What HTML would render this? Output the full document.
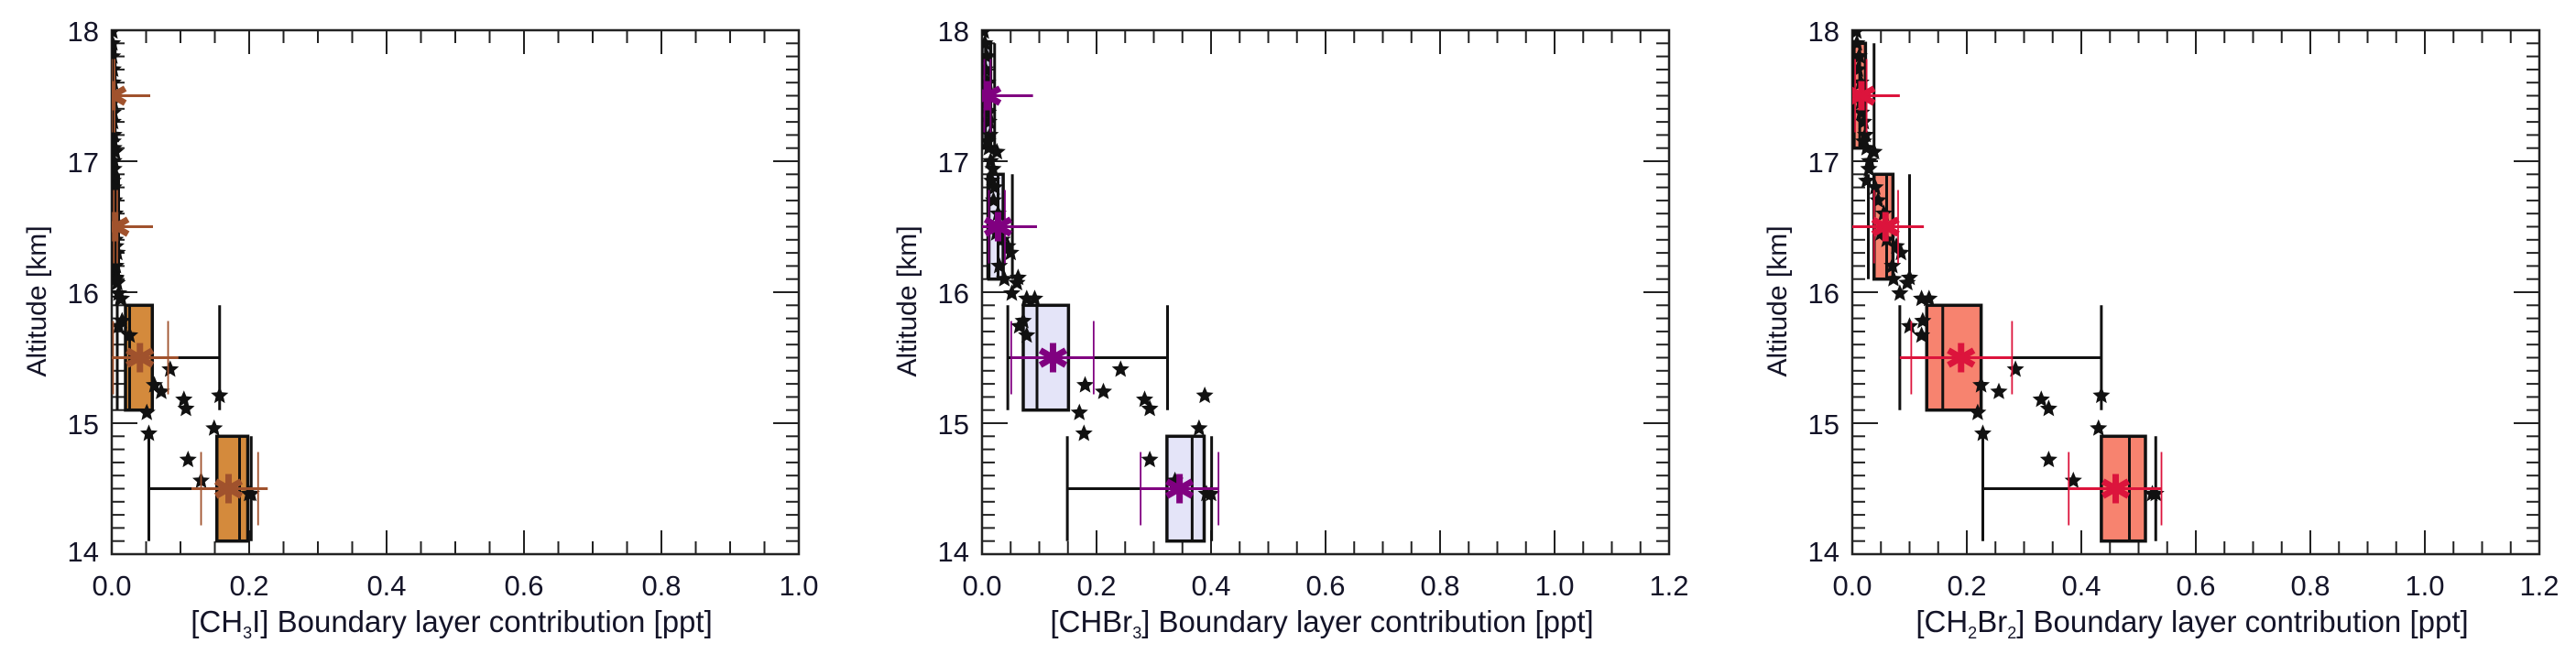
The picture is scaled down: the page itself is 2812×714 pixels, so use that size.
<!DOCTYPE html>
<html><head><meta charset="utf-8"><style>
html,body{margin:0;padding:0;background:#fff;}
svg{display:block;}
text{font-family:"Liberation Sans",sans-serif;fill:#141428;}
</style></head><body>
<svg id="chart" width="2812" height="714" viewBox="0 0 2812 714" xmlns="http://www.w3.org/2000/svg"></svg>
<script>
// ---- shared data ----
const altitudes = [14.46,14.46,14.56,14.72,14.92,14.96,15.08,15.11,15.18,15.21,15.24,15.29,15.41,15.67,15.78,15.74,15.95,15.95,15.99,16.07,16.11,16.10,16.30,16.35,17.07,16.94,16.85,17.20,17.37,17.99,16.2,16.4,16.45,16.6,16.7,16.8,17.0,17.1,17.15,17.3,17.45,17.6,17.7,17.8,17.9];
const binCenters = [14.5,15.5,16.5,17.5];
// ---- CH3I ----
const ch3iPoints = [0.203,0.2,0.13,0.111,0.054,0.149,0.051,0.108,0.105,0.157,0.072,0.062,0.085,0.026,0.015,0.01,0.014,0.012,0.01,0.008,0.006,0.006,0.008,0.006,0.005,0.003,0.002,0.003,0.002,0.001,0.006,0.005,0.004,0.005,0.004,0.003,0.003,0.003,0.002,0.002,0.002,0.002,0.002,0.001,0.001];
const ch3iBoxLo = [0.153,0.02,0.001,0.0];
const ch3iBoxMed = [0.186,0.026,0.004,0.001];
const ch3iBoxHi = [0.198,0.059,0.008,0.003];
const ch3iMin = [0.054,0.008,0.0,0.0];
const ch3iMax = [0.203,0.157,0.01,0.005];
const ch3iMean = [0.17,0.041,0.005,0.001];
const ch3iErrLo = [0.116,-0.012,-0.052,-0.053];
const ch3iErrHi = [0.227,0.097,0.06,0.056];
const ch3iTickLo = [0.13,0.002,0.003,0.0];
const ch3iTickHi = [0.213,0.082,0.008,0.004];
// ---- CHBr3 ----
const chbr3Points = [0.40,0.392,0.337,0.293,0.178,0.379,0.170,0.293,0.284,0.389,0.212,0.18,0.242,0.078,0.072,0.065,0.092,0.078,0.052,0.061,0.063,0.039,0.05,0.045,0.026,0.019,0.017,0.014,0.011,0.003,0.03,0.035,0.025,0.028,0.02,0.022,0.015,0.012,0.01,0.012,0.008,0.01,0.006,0.008,0.005];
const chbr3BoxLo = [0.323,0.072,0.012,0.0];
const chbr3BoxMed = [0.367,0.096,0.028,0.006];
const chbr3BoxHi = [0.388,0.151,0.037,0.015];
const chbr3Min = [0.149,0.045,0.01,0.0];
const chbr3Max = [0.401,0.324,0.053,0.022];
const chbr3Mean = [0.345,0.124,0.028,0.009];
const chbr3ErrLo = [0.277,0.051,-0.034,-0.067];
const chbr3ErrHi = [0.413,0.195,0.096,0.089];
const chbr3TickLo = [0.277,0.051,0.012,0.004];
const chbr3TickHi = [0.413,0.195,0.04,0.015];
// ---- CH2Br2 ----
const ch2br2Points = [0.53,0.524,0.386,0.343,0.228,0.43,0.219,0.343,0.33,0.435,0.256,0.225,0.285,0.121,0.123,0.10,0.134,0.121,0.083,0.096,0.10,0.072,0.085,0.077,0.038,0.029,0.025,0.023,0.016,0.007,0.07,0.06,0.05,0.055,0.045,0.04,0.03,0.025,0.02,0.02,0.015,0.015,0.01,0.012,0.008];
const ch2br2BoxLo = [0.435,0.13,0.038,0.003];
const ch2br2BoxMed = [0.484,0.158,0.06,0.013];
const ch2br2BoxHi = [0.512,0.225,0.071,0.023];
const ch2br2Min = [0.228,0.083,0.028,0.0];
const ch2br2Max = [0.53,0.435,0.10,0.038];
const ch2br2Mean = [0.46,0.19,0.058,0.016];
const ch2br2ErrLo = [0.378,0.083,-0.008,-0.046];
const ch2br2ErrHi = [0.54,0.28,0.125,0.083];
const ch2br2TickLo = [0.378,0.103,0.038,0.005];
const ch2br2TickHi = [0.54,0.279,0.08,0.025];

const xTicks1 = ["0.0","0.2","0.4","0.6","0.8","1.0"];
const xTicks23 = ["0.0","0.2","0.4","0.6","0.8","1.0","1.2"];
const yTicks = ["14","15","16","17","18"];

const NS="http://www.w3.org/2000/svg";
const svg=document.getElementById('chart');
function mk(tag,attrs,parent){const e=document.createElementNS(NS,tag);for(const k in attrs)e.setAttribute(k,attrs[k]);(parent||svg).appendChild(e);return e;}

const TOP=33, BOT=605, W=750;
const panels=[
 {name:'ch3i',left:122,xmax:1.0,ticks:xTicks1,pts:ch3iPoints,bl:ch3iBoxLo,bm:ch3iBoxMed,bh:ch3iBoxHi,mn:ch3iMin,mx:ch3iMax,mean:ch3iMean,el:ch3iErrLo,eh:ch3iErrHi,tl:ch3iTickLo,th:ch3iTickHi,fill:'#D48A3C',col:'#A0522D',title:['[CH','3','I] Boundary layer contribution  [ppt]']},
 {name:'chbr3',left:1072,xmax:1.2,ticks:xTicks23,pts:chbr3Points,bl:chbr3BoxLo,bm:chbr3BoxMed,bh:chbr3BoxHi,mn:chbr3Min,mx:chbr3Max,mean:chbr3Mean,el:chbr3ErrLo,eh:chbr3ErrHi,tl:chbr3TickLo,th:chbr3TickHi,fill:'#E4E4F8',col:'#800080',title:['[CHBr','3','] Boundary layer contribution  [ppt]']},
 {name:'ch2br2',left:2022,xmax:1.2,ticks:xTicks23,pts:ch2br2Points,bl:ch2br2BoxLo,bm:ch2br2BoxMed,bh:ch2br2BoxHi,mn:ch2br2Min,mx:ch2br2Max,mean:ch2br2Mean,el:ch2br2ErrLo,eh:ch2br2ErrHi,tl:ch2br2TickLo,th:ch2br2TickHi,fill:'#F7836F',col:'#DC143C',title:['[CH','2','Br','2','] Boundary layer contribution  [ppt]']}
];

function starPath(cx,cy,r){let d='';for(let i=0;i<10;i++){const a=-Math.PI/2+i*Math.PI/5;const rr=i%2?r*0.45:r;d+=(i?'L':'M')+(cx+rr*Math.cos(a)).toFixed(1)+','+(cy+rr*Math.sin(a)).toFixed(1);}return d+'Z';}

panels.forEach(p=>{
  const g=mk('g',{});
  
  
  const xs=v=>p.left+v/p.xmax*W;
  const ys=v=>BOT-(v-14)/4*(BOT-TOP);
  const cid='clip-'+p.name;
  const cp=mk('clipPath',{id:cid},g);mk('rect',{x:p.left,y:TOP,width:W,height:BOT-TOP},cp);
  const axg=mk('g',{stroke:'#222','stroke-width':2},g);
  
  
  const nMinor=Math.round(p.xmax/0.05);
  for(let i=0;i<=nMinor;i++){const x=xs(i*0.05);const L=(i%4===0)?26:14;
    mk('line',{x1:x,y1:BOT,x2:x,y2:BOT-L},axg);mk('line',{x1:x,y1:TOP,x2:x,y2:TOP+L},axg);}
  for(let i=0;i<=40;i++){const y=ys(14+i*0.1);const L=(i%10===0)?28:14;
    mk('line',{x1:p.left,y1:y,x2:p.left+L,y2:y},axg);mk('line',{x1:p.left+W,y1:y,x2:p.left+W-L,y2:y},axg);}
  mk('rect',{x:p.left,y:TOP,width:W,height:BOT-TOP,fill:'none',stroke:'#222','stroke-width':2.5},axg);
  p.ticks.forEach((t,i)=>{const tx=mk('text',{x:xs(i*0.2),y:650,'font-size':31,'text-anchor':'middle'},g);tx.textContent=t;
    
    });
  yTicks.forEach((t,i)=>{const tx=mk('text',{x:p.left-14,y:ys(14+i)+(i===0?8:12),'font-size':31,'text-anchor':'end'},g);tx.textContent=t;
    
    });
  const yt=mk('text',{x:0,y:0,'font-size':30,'text-anchor':'middle',transform:`translate(${p.left-72},${(TOP+BOT)/2+10}) rotate(-90)`},g);
  yt.textContent='Altitude  [km]';
  
  
  const xt=mk('text',{x:p.left+W/2-4,y:690,'font-size':33,'text-anchor':'middle'},g);
  
  
  p.title.forEach((s,i)=>{const ts=mk('tspan',{},xt);ts.textContent=s;if(i%2===1){ts.setAttribute('font-size','18');ts.setAttribute('dy','7');}else if(i>0){ts.setAttribute('dy','-7');}});
  const plot=mk('g',{'clip-path':`url(#${cid})`},g);
  binCenters.forEach((c,i)=>{
    const bg=mk('g',{stroke:'#111','stroke-width':3},plot);
    
    
    const y0=ys(c-0.4),y1=ys(c+0.4),ym=ys(c);
    mk('line',{x1:xs(p.mn[i]),y1:ym,x2:xs(p.mx[i]),y2:ym},bg);
    mk('line',{x1:xs(p.mn[i]),y1:y0,x2:xs(p.mn[i]),y2:y1},bg);
    mk('line',{x1:xs(p.mx[i]),y1:y0,x2:xs(p.mx[i]),y2:y1},bg);
    mk('rect',{x:xs(p.bl[i]),y:y1,width:Math.max(1,xs(p.bh[i])-xs(p.bl[i])),height:y0-y1,fill:p.fill,'stroke-width':3.5},bg);
    mk('line',{x1:xs(p.bm[i]),y1:y0,x2:xs(p.bm[i]),y2:y1},bg);
  });
  p.pts.forEach((v,i)=>{const s=mk('path',{d:starPath(xs(v),ys(altitudes[i]),10),fill:'#111'},plot);
    
    });
  binCenters.forEach((c,i)=>{
    const mg=mk('g',{stroke:p.col},plot);
    
    
    const ym=ys(c);
    mk('line',{x1:xs(p.el[i]),y1:ym,x2:xs(p.eh[i]),y2:ym,'stroke-width':3},mg);
    mk('line',{x1:xs(p.tl[i]),y1:ys(c-0.28),x2:xs(p.tl[i]),y2:ys(c+0.28),'stroke-width':1.8},mg);
    mk('line',{x1:xs(p.th[i]),y1:ys(c-0.28),x2:xs(p.th[i]),y2:ys(c+0.28),'stroke-width':1.8},mg);
    const cx=xs(p.mean[i]);
    for(let k=0;k<3;k++){const a=Math.PI/2+k*Math.PI/3;mk('line',{x1:cx+16*Math.cos(a),y1:ym+16*Math.sin(a),x2:cx-16*Math.cos(a),y2:ym-16*Math.sin(a),'stroke-width':7},mg);}
  });
});
</script>
</body></html>
